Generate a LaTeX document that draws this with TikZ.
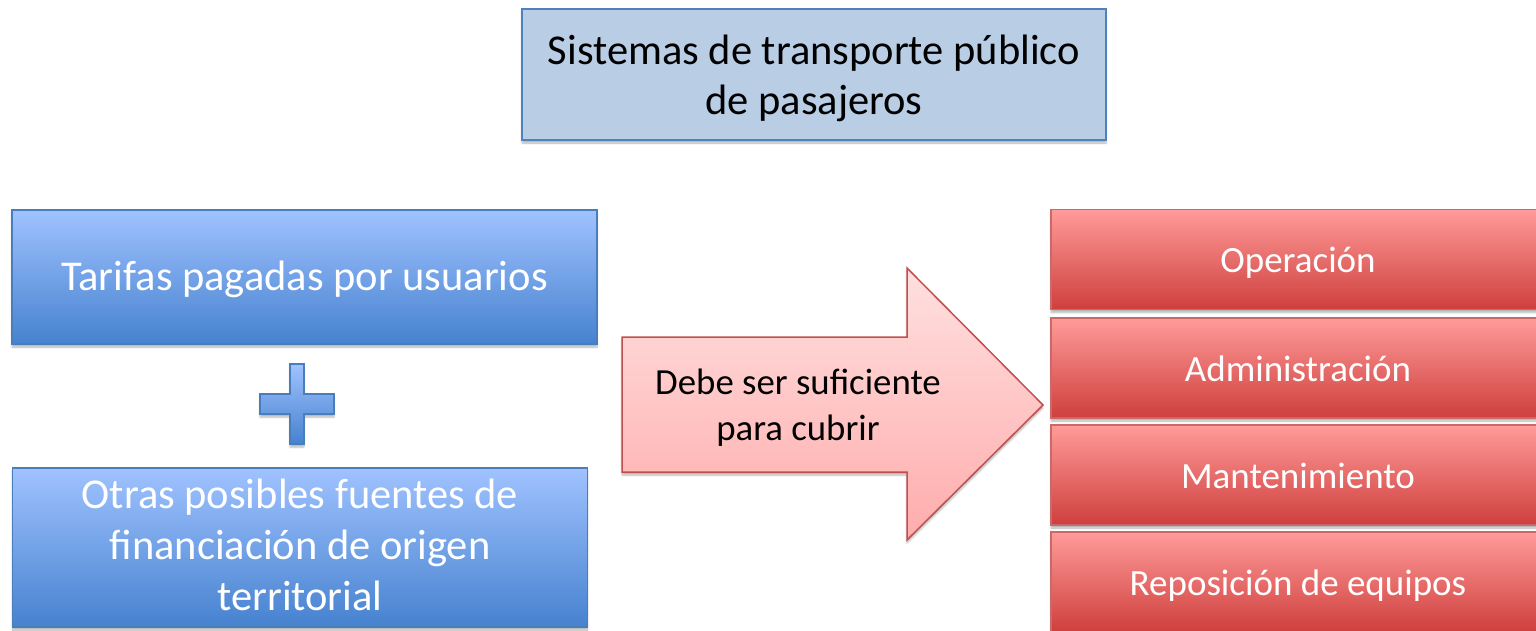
\documentclass[tikz,border=0pt]{standalone}
\usepackage{fontspec}
\setmainfont{Carlito}
\usetikzlibrary{shadows.blur}
\definecolor{titlefill}{HTML}{B9CDE5}
\definecolor{titleline}{HTML}{4F81BD}
\definecolor{bluetop}{HTML}{A0C2FF}
\definecolor{bluemid}{HTML}{93B8F6}
\definecolor{bluebot}{HTML}{4682CF}
\definecolor{blueline}{HTML}{4A7EBB}
\definecolor{redtop}{HTML}{FF9B99}
\definecolor{redmid}{HTML}{F08684}
\definecolor{redbot}{HTML}{CE3F3D}
\definecolor{redline}{HTML}{C0504D}
\definecolor{arrtop}{HTML}{FFE0E0}
\definecolor{arrbot}{HTML}{FFACAC}
\tikzset{
  shad/.style={blur shadow={shadow xshift=0pt, shadow yshift=-3pt, shadow blur steps=6, shadow opacity=30}},
  titlebox/.style={rectangle, draw=titleline, line width=1.5pt, fill=titlefill, shad, align=center, inner sep=0pt,
    font=\fontsize{42.5}{50}\selectfont, text=black},
  bluebox/.style={rectangle, draw=blueline, line width=1.2pt, top color=bluetop, middle color=bluemid, bottom color=bluebot, shad,
    align=center, inner sep=0pt, font=\fontsize{42.5}{51}\selectfont, text=white},
  redbox/.style={rectangle, draw=redline!85, line width=1.2pt, top color=redtop, middle color=redmid, bottom color=redbot, shad,
    align=center, inner sep=0pt, minimum width=494pt, minimum height=100pt, text height=26pt, text depth=0pt,
    font=\fontsize{37}{44}\selectfont, text=white},
  arrtext/.style={align=center, inner sep=0pt, font=\fontsize{36.8}{46}\selectfont, text=black},
}
\begin{document}
\begin{tikzpicture}[x=1pt,y=-1pt]
\useasboundingbox (0,0) rectangle (1536,631);
% title
\node[titlebox, minimum width=584pt, minimum height=131pt, text height=79.6pt, text depth=0pt] (title) at (814,74.5)
  {Sistemas de transporte público\\de pasajeros};
% blue boxes
\node[bluebox, minimum width=585pt, minimum height=134pt, text height=26pt, text depth=0pt] (tarifas) at (304.5,277)
  {Tarifas pagadas por usuarios};
\node[bluebox, minimum width=575pt, minimum height=159pt, text height=125pt, text depth=0pt] (otras) at (300,547.5)
  {Otras posibles fuentes de\\financiación de origen\\territorial};
% plus sign
\path[draw=blueline, line width=1.2pt, top color=bluetop, bottom color=bluebot, shad]
  (290,364) -- (304,364) -- (304,394) -- (334,394) -- (334,414) -- (304,414) -- (304,444)
  -- (290,444) -- (290,414) -- (260,414) -- (260,394) -- (290,394) -- cycle;
% arrow
\coordinate (a1) at (622,337);
\coordinate (a2) at (907,337);
\coordinate (a3) at (907,268);
\coordinate (tip) at (1043,405);
\coordinate (a5) at (907,540);
\coordinate (a6) at (907,472);
\coordinate (a7) at (622,472);
\path[draw=redline, line width=1.5pt, top color=arrtop, bottom color=arrbot, shad]
  (a1) -- (a2) -- (a3) -- (tip) -- (a5) -- (a6) -- (a7) -- cycle;
\node[arrtext, text height=71pt, text depth=0pt] (debe) at (798,404.5) {Debe ser suficiente\\para cubrir};
% red boxes
\node[redbox] (oper) at (1298,259.5) {Operación};
\node[redbox] (admin) at (1298,368) {Administración};
\node[redbox] (mant) at (1298,475) {Mantenimiento};
\node[redbox] (repo) at (1298,582) {Reposición de equipos};
\end{tikzpicture}
\end{document}
